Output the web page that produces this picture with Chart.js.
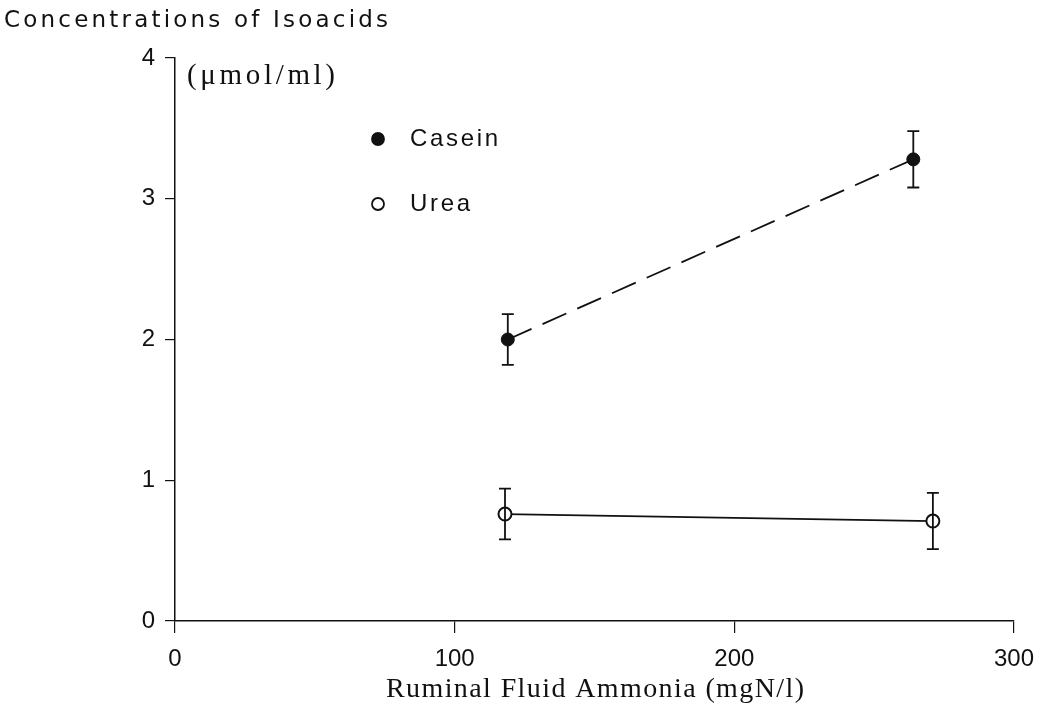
<!DOCTYPE html>
<html>
<head>
<meta charset="utf-8">
<script src="https://cdn.jsdelivr.net/npm/chart.js@4"></script>
<style>
  html, body { margin:0; padding:0; background:#fff; }
  #wrap { width:1046px; height:725px; position:relative; }
</style>
</head>
<body>
<div id="wrap"><canvas id="isoChart" width="1046" height="725"></canvas></div>
<script>
/* ==========================
   DATA
========================== */

const caseinX = [119, 264];
const caseinY = [2.0, 3.28];
const caseinErr = [0.18, 0.2];

const ureaX = [118, 271];
const ureaY = [0.76, 0.71];
const ureaErr = [0.18, 0.2];

const xTicks = [0, 100, 200, 300];
const yTicks = [0, 1, 2, 3, 4];

const yTitle = "Concentrations of Isoacids";
const yUnit = "(\u03bcmol/ml)";
const xTitle = "Ruminal Fluid Ammonia (mgN/l)";
const seriesNames = ["Casein", "Urea"];

const ink = "#111";

/* ==========================
   HELPERS
========================== */

function fitText(ctx, text, x, y, width, font, align){
    ctx.save();
    ctx.font = font;
    ctx.fillStyle = ink;
    ctx.textBaseline = "middle";
    const w = ctx.measureText(text).width;
    const sp = (width - w) / Math.max(1, text.length - 1);
    ctx.letterSpacing = sp + "px";
    ctx.textAlign = "left";
    let sx = x;
    if(align === "center") sx = x - width / 2;
    ctx.fillText(text, sx, y);
    ctx.restore();
}

/* ==========================
   PLUGINS
========================== */

const errorBars = {
    id:"errorBars",
    afterDatasetsDraw(chart){
        const ctx = chart.ctx;
        const xs = chart.scales.x, ys = chart.scales.y;
        chart.data.datasets.forEach(ds => {
            ds.data.forEach((p, i) => {
                const px = xs.getPixelForValue(p.x);
                const top = ys.getPixelForValue(p.y + ds.errors[i]);
                const bot = ys.getPixelForValue(p.y - ds.errors[i]);
                ctx.save();
                ctx.strokeStyle = ink;
                ctx.lineWidth = 1.8;
                ctx.beginPath();
                ctx.moveTo(px, top); ctx.lineTo(px, bot);
                ctx.moveTo(px - 6, top); ctx.lineTo(px + 6, top);
                ctx.moveTo(px - 6, bot); ctx.lineTo(px + 6, bot);
                ctx.stroke();
                ctx.restore();
            });
        });
    }
};

const labels = {
    id:"labels",
    afterDraw(chart){
        const ctx = chart.ctx;
        // y title at top left
        fitText(ctx, yTitle, 4, 21, 384, "23px 'DejaVu Sans'", "left");
        // unit
        fitText(ctx, yUnit, 187, 76, 148, "29px 'Liberation Serif'", "left");
        // x title
        fitText(ctx, xTitle, 595, 690, 418, "28px 'Liberation Serif'", "center");

        // legend
        const items = [
            {y:139, fill:true, w:88},
            {y:204, fill:false, w:60}
        ];
        items.forEach((it, i) => {
            ctx.save();
            ctx.beginPath();
            ctx.arc(378, it.y, 6, 0, Math.PI * 2);
            ctx.lineWidth = 1.8;
            ctx.strokeStyle = ink;
            ctx.fillStyle = it.fill ? ink : "#fff";
            ctx.fill();
            ctx.stroke();
            ctx.restore();
            fitText(ctx, seriesNames[i], 410, it.y, it.w, "24px 'Liberation Sans'", "left");
        });
    }
};

/* ==========================
   CHART
========================== */

const canvas = document.getElementById("isoChart");

new Chart(canvas, {
    type:"scatter",
    data:{
        datasets:[
            {
                label:seriesNames[0],
                data:caseinX.map((x, i) => ({x:x, y:caseinY[i]})),
                errors:caseinErr,
                showLine:true,
                borderColor:ink,
                borderWidth:1.8,
                borderDash:[26, 12],
                pointRadius:6.5,
                pointBackgroundColor:ink,
                pointBorderColor:ink,
                pointBorderWidth:1
            },
            {
                label:seriesNames[1],
                data:ureaX.map((x, i) => ({x:x, y:ureaY[i]})),
                errors:ureaErr,
                showLine:true,
                borderColor:ink,
                borderWidth:1.8,
                pointRadius:6.5,
                pointBackgroundColor:"#fff",
                pointBorderColor:ink,
                pointBorderWidth:2
            }
        ]
    },
    options:{
        responsive:false,
        animation:false,
        devicePixelRatio:1,
        layout:{ padding:{ top:58, right:31, left:0, bottom:0 } },
        plugins:{
            legend:{ display:false },
            tooltip:{ enabled:false }
        },
        scales:{
            x:{
                type:"linear",
                min:0,
                max:300,
                afterBuildTicks(s){ s.ticks = xTicks.map(v => ({value:v})); },
                ticks:{
                    color:ink,
                    padding:12,
                    font:{ family:"'Liberation Sans'", size:24 }
                },
                grid:{ drawOnChartArea:false, tickLength:12, color:ink, lineWidth:1.2 },
                border:{ color:ink, width:1.5 },
                afterFit(s){ s.height = 104; }
            },
            y:{
                type:"linear",
                min:0,
                max:4,
                afterBuildTicks(s){ s.ticks = yTicks.map(v => ({value:v})); },
                ticks:{
                    color:ink,
                    padding:10,
                    font:{ family:"'Liberation Sans'", size:24 }
                },
                grid:{ drawOnChartArea:false, tickLength:10, color:ink, lineWidth:1.2 },
                border:{ color:ink, width:1.5 },
                afterFit(s){ s.width = 175; }
            }
        }
    },
    plugins:[errorBars, labels]
});
</script>
</body>
</html>
